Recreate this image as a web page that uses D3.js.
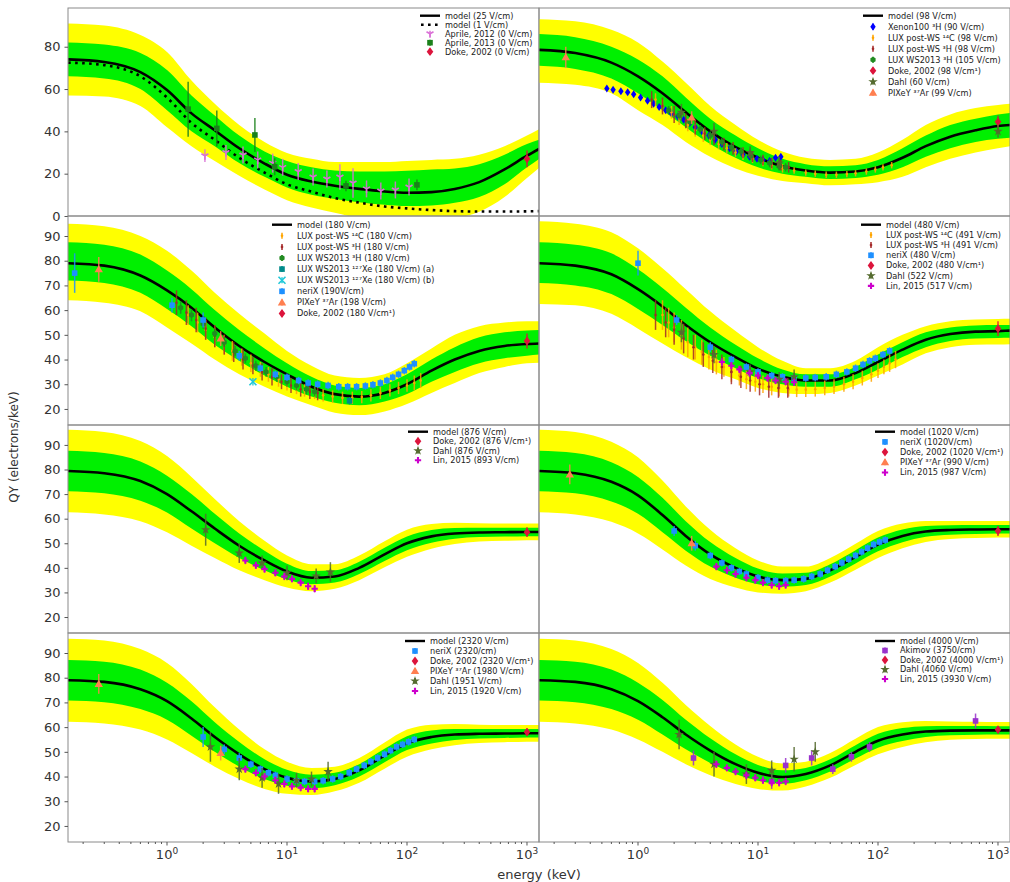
<!DOCTYPE html>
<html>
<head>
<meta charset="utf-8">
<script src="https://cdn.jsdelivr.net/npm/d3@7"></script>
<style>
  body { margin: 0; background: #fff; }
  svg { display: block; font-family: "DejaVu Sans", sans-serif; }
</style>
</head>
<body>
<svg id="chart" width="1010" height="882"></svg>
<script>
// energy grid (keV) where the model curves / bands were read
const energy = [0.15,0.3,0.6,1,1.6,2.5,4,6.5,10,16,25,40,65,100,160,250,400,650,1000,1260];

// ---- 25 V/cm panel (plus 1 V/cm dotted)
const model25 = [74,72.8,68,59.5,48.5,40.5,32,24.8,19.5,16.3,14.3,12.8,11.6,11,11.3,12.8,16,22,28.5,31.7];
const model1 = [72.5,71.3,66,56,44,36,27.5,20.5,15,11.5,8.5,6.3,4.5,3.6,2.8,2.3,2.1,2.1,2.2,2.3];
const green25Hi = [82,81,77,69,57,47.5,38,30.5,26,23,21.5,21,21,21.4,22,22.5,24.5,29,34,36];
const green25Lo = [66,65,60,50,40,33,25,18.5,13.5,10,8,6.5,5.3,4.7,5,6.3,9,15,23,27];
const yellow25Hi = [91,90,85.5,77.5,64,53,43,35,29.8,27,25.5,25.5,25.5,26,26.5,27,29,33,38,41];
const yellow25Lo = [57,56.5,52,42,33,26,19,12.5,7.5,4,1.5,-1,-2,-2,-2,-1,2,9,18,22.7];

// ---- 98 V/cm panel
const model98 = [78.5,77,72.5,66,58,49,40,32.5,27.5,23.5,21.5,20.5,21,23,27.5,33,37.5,40.5,42.5,43];
const green98Hi = [86,84.5,80,74,66,56,46,38,32,27,24.5,23.5,24,26.5,32,38,43,46,48,48.7];
const green98Lo = [71,69.5,65,58,50,42,34,27.5,23,20,18.5,17.5,18,19.5,23,28,32,35,36.5,37];
const yellow98Hi = [93,92,88,82,73,63,52,43,36,30.5,27.5,26.5,27,30,36,43,48,51,52.5,53];
const yellow98Lo = [63,62,58,50,43,35,28,22.5,19,16.5,15.5,14.5,15,16,18.5,23,27,30,32,33];

// ---- 180 V/cm panel
const model180 = [79,78,74,68,61,53,45.5,39,34,29,26,25,26.5,30,35.5,40,43.5,45.5,46.3,46.5];
const green180Hi = [87.5,86.5,82.5,76,68.5,60,52,44.5,38.5,33,29.5,28.5,30,34,40,45,49,51,51.8,52];
const green180Lo = [72,71,67,60.5,53.5,46,39.5,33.5,29,25,22.5,21.5,23,26,31,35,38.5,40.5,41.5,42];
const yellow180Hi = [95,94,90,84,76,67,58.5,50.5,43.5,37.5,33.5,32.5,34,38.5,44.5,50,53.5,55,55.5,55.5];
const yellow180Lo = [64,63,59.5,53,46.5,40,34,29,25,21.5,18.5,17.5,19,22,26.5,30.5,34.5,37,38.5,38.7];

// ---- 480 V/cm panel
const model480 = [79,78,74.5,68.5,61.5,54,47,41,36.3,33,31.5,31.5,34.5,39,44,48,50.3,51.3,51.5,51.7];
const green480Hi = [87.5,86.5,83,76.5,69,61,53,46,40.5,36,34,34,37,42,47,51,53,53.8,54,54];
const green480Lo = [71,70,66.5,60.5,54,47.5,41.5,36.5,32.5,30,29,29,32,36,41,45,47.5,48.5,48.7,48.8];
const yellow480Hi = [96,95,91.5,85,77,68.5,59.5,51.5,45,39.5,36.5,36.5,39.5,45,50,53.5,55.5,56.2,56.4,56.5];
const yellow480Lo = [62.5,62,58.5,52.5,46.5,41,36,32,28.5,26.5,26,26.5,29.5,33.5,38,42.5,45,46,46.1,46.2];

// ---- 876 V/cm panel
const model876 = [79.4,78.5,75.3,70,63,56,49,43,38.5,36,36.5,40,45.5,50,52.8,54,54.4,54.5,54.6,54.6];
const green876Hi = [87.6,86.7,83.3,77.5,70,62,54,47,41.7,38.7,39,42.5,48.2,52.8,55.4,56.2,56.3,56.3,56.3,56.3];
const green876Lo = [71.2,70.3,67.3,62.5,56,50,44,39,35.3,33.3,34,37.5,42.8,47.2,50.2,51.8,52.5,52.7,52.9,52.9];
const yellow876Hi = [96.2,95.3,91.6,85.5,77,68,59,51,45,41.5,41.5,45,50.8,55.5,57.8,58.3,58.1,58,58,58];
const yellow876Lo = [62.6,61.7,59,54.5,49,44,39,35,32,30.5,31.5,35,40.2,44.5,47.8,49.7,50.7,51,51.2,51.2];

// ---- 1020 V/cm panel
const model1020 = [79.4,78.5,75,69.5,61.5,53,45.5,40,36.5,35,35.5,39,44.5,49.5,53,54.8,55.4,55.6,55.7,55.7];
const green1020Hi = [87.6,86.7,83,77,68.5,59,50.5,44,39.7,37.7,38,41.5,47.2,52.3,55.6,57,57.3,57.4,57.4,57.4];
const green1020Lo = [71.2,70.3,67,62,54.5,47,40.5,36,33.3,32.3,33,36.5,41.8,46.7,50.4,52.6,53.5,53.8,54,54];
const yellow1020Hi = [96.2,95.3,91.3,85,75.5,65,55.5,48,43,40.5,40.5,44,49.8,55,58,59.1,59.1,59.1,59.1,59.1];
const yellow1020Lo = [62.6,61.7,58.7,54,47.5,41,35.5,32,30,29.5,30.5,34,39.2,44,48,50.5,51.7,52.1,52.3,52.3];

// ---- 2320 V/cm panel
const model2320 = [79,78.3,75.3,70.5,63.5,56,49,43,39.5,38,39,42.5,48.5,53.5,56,57,57.3,57.4,57.5,57.5];
const green2320Hi = [87.2,86.5,83.3,78,70.5,62,54,47,42.7,40.7,41.5,45,51.2,56.3,58.6,59.2,59.2,59.2,59.2,59.2];
const green2320Lo = [70.8,70.1,67.3,63,56.5,50,44,39,36.3,35.3,36.5,40,45.8,50.7,53.4,54.8,55.4,55.6,55.8,55.8];
const yellow2320Hi = [95.8,95.1,91.6,86,77.5,68,59,51,46,43.5,44,47.5,53.8,59,61,61.3,61,60.9,60.9,60.9];
const yellow2320Lo = [62.2,61.5,59,55,49.5,44,39,35,33,32.5,34,37.5,43.2,48,51,52.7,53.6,53.9,54.1,54.1];

// ---- 4000 V/cm panel
const model4000 = [79,78.3,75.3,70.5,64,57,50.5,45,41.5,39.8,41,44.5,50,54.5,57,58.2,58.6,58.7,58.7,58.7];
const green4000Hi = [87.2,86.5,83.3,78,71,63,55.5,49,44.7,42.5,43.5,47,52.7,57.3,59.6,60.4,60.5,60.5,60.4,60.4];
const green4000Lo = [70.8,70.1,67.3,63,57,51,45.5,41,38.3,37.1,38.5,42,47.3,51.7,54.4,56,56.7,56.9,57,57];
const yellow4000Hi = [95.8,95.1,91.6,86,78,69,60.5,53,48,45.3,46,49.5,55.3,60,62,62.5,62.3,62.2,62.1,62.1];
const yellow4000Lo = [62.2,61.5,59,55,50,45,40.5,37,35,34.3,36,39.5,44.7,49,52,53.9,54.9,55.2,55.3,55.3];

// ---- measurements: [energy keV, QY, error]
const aprile2012 = [[2.07,28.5,3],[3.1,30,3.5],[4.3,28.8,4],[5.7,26.5,4],[7.6,25,4.5],[9.2,23,4],[12.4,21,4],[16.5,18.4,4],[21.5,17.5,4],[27.6,18.4,6],[35.5,15.6,7],[46,12.8,4],[60.5,11.8,4],[80,12.3,4],[104,13.7,4]];
const aprile2013 = [[1.5,50.5,13],[2.6,41.4,8.5],[5.4,38.3,8],[7.9,23.3,4],[31,14.2,2.5],[121,14.7,2.5]];
const doke0 = [[1000,27,4]];

const xenon100 = [[0.55,60.3,0.6],[0.62,59.7,0.6],[0.72,59,0.6],[0.82,58.5,0.6],[0.92,57.5,0.6],[1.05,56,0.6],[1.2,54.5,0.6],[1.35,53,0.6],[1.5,51.5,0.6],[1.7,50,0.6],[1.9,48.5,0.6],[2.15,47,0.6],[2.4,45.5,0.6],[2.7,44,0.6],[3,42,0.6],[3.4,40,0.6],[3.9,38,0.6],[4.4,36,0.6],[5,34,0.6],[5.8,32,0.6],[6.6,30.5,0.6],[7.5,29,0.6],[8.5,28,0.6],[9.8,27,0.6],[11,26.5,0.6],[12.5,26,0.8],[14,27.5,1],[15.5,28,1]];
const lux14C98 = [[1.4,55,3],[1.6,52,3],[1.9,49,3],[2.2,46,3],[2.6,43,3],[3,40.5,3],[3.5,38,3],[4,36,2.5],[4.7,34,2.5],[5.5,32,2.5],[6.5,30,2],[7.5,28.5,2],[9,27,2],[11,25.5,2],[13,24,2],[16,22.5,2],[20,21.5,1.5],[25,20.5,1.5],[30,20,1.5],[37,19.5,1.5],[45,19.5,1.5],[55,19.8,1.5],[65,20.2,1.5],[80,21,1.5],[95,22,1.5],[110,23,1.5],[130,24,1.5]];
const lux3H98 = [[1.3,55,4],[1.6,52,4],[2,48,4],[2.5,45,3.5],[3,42,3.5],[3.6,39,3],[4.3,36.5,3],[5.2,34,3],[6.2,32,3],[7.5,30,2.5],[9,28,2.5],[11,26.5,2.5],[13,25,2.5],[15.5,24,2.5],[18,23,2.5]];
const luxWS3H105 = [[1.8,50,2],[2.2,47.5,2],[2.7,44.5,2],[3.3,41,2],[4,38,2],[5,35,2],[6,32.5,2],[7.2,30.5,2],[8.7,28.5,2],[10.5,26.5,2],[12.5,25,2],[15,23.5,2],[17,23,2]];
const doke98 = [[1000,44.5,3]];
const dahl60 = [[2.3,49,4],[4.3,40,4],[8.6,30,3],[15,25,3],[1000,40,3]];
const pixey99 = [[0.25,75,5],[2.8,46.5,3]];

const lux14C180 = [[1.5,58,4],[1.8,55,4],[2.1,52,4],[2.5,49,4],[3,46,4],[3.5,43.5,4],[4.2,41,3.5],[5,38.5,3.5],[6,36,3],[7,34,3],[8.5,32,3],[10,30.5,3],[12,29,3],[14,27.5,2.5],[17,26.5,2.5],[20,25.5,2.5],[24,25,2.5],[29,24.5,2.5],[35,24.5,2.5],[42,24.8,2.5],[50,25.5,2.5],[60,26.5,2.5],[72,27.5,2.5],[85,28.5,2.5],[100,29.5,2.5],[115,30.5,3],[130,31.5,3]];
const lux3H180 = [[1.2,63,5],[1.45,59,5],[1.75,56,5],[2.1,52.5,4.5],[2.5,49.5,4.5],[3,46,4],[3.6,43,4],[4.3,40,4],[5.2,37.5,3.5],[6.2,35,3.5],[7.5,33,3.5],[9,31,3],[10.8,29.5,3],[13,28,3],[15.5,27,3],[18,26.5,3]];
const luxWS3H180 = [[1.3,61,2.5],[1.6,58,2.5],[2,54.5,2],[2.5,50.5,2],[3,47,2],[3.7,43.5,2],[4.5,40.5,2],[5.5,37.5,2],[6.7,35,2],[8.2,33,2],[10,31,2],[12,29.5,2],[14.5,28,2],[17,27,2]];
const lux127XeA = [[33.2,23.3,1.5]];
const lux127XeB = [[5.2,31,1.5]];
const nerix190 = [[0.17,75,8],[1.1,62,3],[2,56,3],[4,41.5,2],[6,36.5,1.5],[8,34,1.5],[10,32.8,1.5],[12.5,31.5,1.5],[15,30.5,1.5],[18,30,1.5],[22,29.5,1.5],[27,29,1.5],[32,29,1.5],[38,29,1.5],[45,29.3,1.5],[52,29.8,1.5],[60,30.5,1.5],[68,31.5,1.5],[76,32.8,1.5],[85,34,1.5],[95,35.5,1.5],[105,37,1.5],[115,38.3,1.5]];
const pixey198 = [[0.27,76.5,5],[2.8,48.5,3]];
const doke180 = [[1000,47.5,3]];

const lux14C491 = [[1.6,58,6],[1.8,55,6],[2,53,6],[2.3,50,6],[2.6,47,6],[3,45,5],[3.4,43,5],[3.9,41,5],[4.5,39,5],[5.2,37,4],[6,35,4],[7,33.5,4],[8,32,4],[9.5,31,4],[11,30,3.5],[13,29,3.5],[15,28.5,3.5],[18,28,3],[21,27.8,3],[25,27.8,3],[30,28,3],[36,28.5,3],[43,29,3],[52,30,3],[62,31,3],[74,32.5,3],[88,34,3],[100,35.5,3],[112,37,3],[125,38.5,3.5],[140,40,3.5]];
const lux3H491 = [[1.4,58,6],[1.7,55,6],[2,52,6],[2.4,48.5,6],[2.9,45,5],[3.5,42,5],[4.2,39.5,5],[5,37,5],[6,35,5],[7.2,33,4.5],[8.6,31.5,4.5],[10.3,30,4.5],[12.3,29,4.5],[14.8,28.5,4],[17.7,28.5,4]];
const nerix480 = [[1,79,5],[2.1,56,2],[4,45,2],[6,40,1.5],[8,37,1.5],[10,35,1.5],[13,33.5,1.5],[16,33,1.5],[20,32.5,1.5],[25,32.5,1.5],[30,32.7,1.5],[37,33,1.5],[45,34,1.5],[55,35,1.5],[65,36.5,1.5],[75,38,1.5],[85,39.5,1.5],[95,40.5,1.5],[110,42,1.5],[125,43.5,1.5]];
const doke480 = [[1000,52.5,3]];
const dahl522 = [[2.3,51,4],[4.3,42,3.5],[8.6,35,3],[15,32,3],[20,33,3]];
const lin517 = [[5,39,1.5],[6,37.5,1.5],[7,36,1.5],[8.5,34.5,1.5],[10,33.5,1.5],[12,32.5,1.5],[14,31.5,1.5],[17,31,1.5],[20,30.8,1.5]];

const doke876 = [[1000,54.5,2]];
const dahl876 = [[2.1,55.5,6.5],[4,46,4],[6.2,42,3],[10,38,3],[17.5,36.7,3],[23,38.3,4]];
const lin893 = [[4.5,43,1.5],[5.5,41,1.5],[6.5,39.5,1.5],[8,38,1.5],[9.5,36.5,1.5],[11,35.5,1.5],[13,34,1.5],[15,32.5,1.5],[17,31.5,1.5]];

const nerix1020 = [[2,55,2],[3,49,2],[4,45,1.5],[5,42,1.5],[6,40,1.5],[7,38.5,1.5],[8,37.5,1.5],[10,36,1.5],[12,35,1.5],[14,34.8,1.5],[17,34.8,1.5],[20,35,1.5],[24,35.5,1.5],[28,36.5,1.5],[33,37.5,1.5],[38,39,1.5],[44,40.5,1.5],[50,42,1.5],[57,43.5,1.5],[65,45,1.5],[73,46.5,1.5],[82,48,1.5],[92,49.5,1.5],[103,50.5,1.5],[115,51.3,1.5]];
const doke1020 = [[1000,55,2]];
const pixey990 = [[0.27,78,4],[2.8,50,3]];
const lin987 = [[4.5,40.5,1.5],[5.5,39,1.5],[6.5,37.5,1.5],[8,36,1.5],[9.5,35,1.5],[11,34,1.5],[13,33,1.5],[15,32.5,1.5],[17,33,1.5]];

const nerix2320 = [[2,56,4],[3,51,2],[4,47.5,2],[5,45,1.5],[6,43,1.5],[7,41.5,1.5],[8,40.5,1.5],[10,39,1.5],[12,38.3,1.5],[14,38,1.5],[17,38,1.5],[20,38.3,1.5],[24,39,1.5],[28,40,1.5],[33,41.5,1.5],[38,43,1.5],[44,44.5,1.5],[50,46,1.5],[57,47.5,1.5],[65,49,1.5],[73,50.5,1.5],[82,52,1.5],[92,53,1.5],[103,54,1.5],[115,55,1.5]];
const doke2320 = [[1000,58,1.5]];
const pixey1980 = [[0.27,77.5,4],[2.8,49.5,3]];
const dahl1951 = [[2.3,52,6],[4,43,4.5],[6.2,39.5,4],[8.5,37,4],[12,38.5,3],[16,39,3],[22,42,4]];
const lin1920 = [[4.5,43,1.5],[5.5,41.5,1.5],[6.5,40,1.5],[8,38.5,1.5],[9.5,37,1.5],[11,36,1.5],[13,35.5,1.5],[15,35,1.5],[17,35,1.5]];

const akimov3750 = [[2.9,47.5,3],[13,38,3],[17,44.5,3],[28,47.5,3],[42,43,2],[60,48,2],[85,52,2],[650,62.5,3]];
const doke4000 = [[1000,59,1.5]];
const dahl4060 = [[2.2,57,6],[4.3,45,5],[8,41,4],[13,42.5,4],[20,47,5],[30,50,4]];
const lin3930 = [[4.5,45,1.5],[5.5,43.5,1.5],[6.5,42,1.5],[8,40.5,1.5],[9.5,39.5,1.5],[11,38.5,1.5],[13,37.5,1.5],[15,37.5,1.5],[17,38,1.5]];

// tick labels
const yTicksTop = [0,20,40,60,80];
const yTicksRest = [20,30,40,50,60,70,80,90];
const xTicks = [1,10,100,1000];

// styles for each data source
const S = {
  aprile12: {color: "#da70d6", m: "1"},
  aprile13: {color: "#1a801a", m: "s"},
  doke: {color: "#dc143c", m: "D"},
  xenon: {color: "#0000ff", m: "d"},
  lux14C: {color: "#ffa500", m: "."},
  lux3H: {color: "#a52a2a", m: "."},
  luxWS: {color: "#228b22", m: "h"},
  xeA: {color: "#008b8b", m: "s"},
  xeB: {color: "#20c8d8", m: "x"},
  nerix: {color: "#1e90ff", m: "s"},
  pixey: {color: "#ff7f50", m: "^"},
  dahl: {color: "#556b2f", m: "*"},
  lin: {color: "#cc00cc", m: "P"},
  akimov: {color: "#9932cc", m: "s"}
};

const panels = [
  {col:0,row:0, model:model25, dotted:model1, g:[green25Lo,green25Hi], y:[yellow25Lo,yellow25Hi],
   leg:{x:420,y:15.7,dy:9}, entries:[
    {label:"model (25 V/cm)", line:"solid"},
    {label:"model (1 V/cm)", line:"dotted"},
    {label:"Aprile, 2012 (0 V/cm)", s:S.aprile12, data:aprile2012},
    {label:"Aprile, 2013 (0 V/cm)", s:S.aprile13, data:aprile2013},
    {label:"Doke, 2002 (0 V/cm)", s:S.doke, data:doke0}]},
  {col:1,row:0, model:model98, g:[green98Lo,green98Hi], y:[yellow98Lo,yellow98Hi],
   leg:{x:863,y:15.7,dy:11}, entries:[
    {label:"model (98 V/cm)", line:"solid"},
    {label:"Xenon100 \u00b3H (90 V/cm)", s:S.xenon, data:xenon100},
    {label:"LUX post-WS \u00b9\u2074C (98 V/cm)", s:S.lux14C, data:lux14C98},
    {label:"LUX post-WS \u00b3H (98 V/cm)", s:S.lux3H, data:lux3H98},
    {label:"LUX WS2013 \u00b3H (105 V/cm)", s:S.luxWS, data:luxWS3H105},
    {label:"Doke, 2002 (98 V/cm\u00b9)", s:S.doke, data:doke98},
    {label:"Dahl (60 V/cm)", s:S.dahl, data:dahl60},
    {label:"PIXeY \u00b3\u2077Ar (99 V/cm)", s:S.pixey, data:pixey99}]},
  {col:0,row:1, model:model180, g:[green180Lo,green180Hi], y:[yellow180Lo,yellow180Hi],
   leg:{x:272,y:224.7,dy:11.1}, entries:[
    {label:"model (180 V/cm)", line:"solid"},
    {label:"LUX post-WS \u00b9\u2074C (180 V/cm)", s:S.lux14C, data:lux14C180},
    {label:"LUX post-WS \u00b3H (180 V/cm)", s:S.lux3H, data:lux3H180},
    {label:"LUX WS2013 \u00b3H (180 V/cm)", s:S.luxWS, data:luxWS3H180},
    {label:"LUX WS2013 \u00b9\u00b2\u2077Xe (180 V/cm) (a)", s:S.xeA, data:lux127XeA},
    {label:"LUX WS2013 \u00b9\u00b2\u2077Xe (180 V/cm) (b)", s:S.xeB, data:lux127XeB},
    {label:"neriX (190V/cm)", s:S.nerix, data:nerix190},
    {label:"PIXeY \u00b3\u2077Ar (198 V/cm)", s:S.pixey, data:pixey198},
    {label:"Doke, 2002 (180 V/cm\u00b9)", s:S.doke, data:doke180}]},
  {col:1,row:1, model:model480, g:[green480Lo,green480Hi], y:[yellow480Lo,yellow480Hi],
   leg:{x:861,y:224.7,dy:10.2}, entries:[
    {label:"model (480 V/cm)", line:"solid"},
    {label:"LUX post-WS \u00b9\u2074C (491 V/cm)", s:S.lux14C, data:lux14C491},
    {label:"LUX post-WS \u00b3H (491 V/cm)", s:S.lux3H, data:lux3H491},
    {label:"neriX (480 V/cm)", s:S.nerix, data:nerix480},
    {label:"Doke, 2002 (480 V/cm\u00b9)", s:S.doke, data:doke480},
    {label:"Dahl (522 V/cm)", s:S.dahl, data:dahl522},
    {label:"Lin, 2015 (517 V/cm)", s:S.lin, data:lin517}]},
  {col:0,row:2, model:model876, g:[green876Lo,green876Hi], y:[yellow876Lo,yellow876Hi],
   leg:{x:408,y:431.7,dy:9.5}, entries:[
    {label:"model (876 V/cm)", line:"solid"},
    {label:"Doke, 2002 (876 V/cm\u00b9)", s:S.doke, data:doke876},
    {label:"Dahl (876 V/cm)", s:S.dahl, data:dahl876},
    {label:"Lin, 2015 (893 V/cm)", s:S.lin, data:lin893}]},
  {col:1,row:2, model:model1020, g:[green1020Lo,green1020Hi], y:[yellow1020Lo,yellow1020Hi],
   leg:{x:875,y:431.7,dy:10.2}, entries:[
    {label:"model (1020 V/cm)", line:"solid"},
    {label:"neriX (1020V/cm)", s:S.nerix, data:nerix1020},
    {label:"Doke, 2002 (1020 V/cm\u00b9)", s:S.doke, data:doke1020},
    {label:"PIXeY \u00b3\u2077Ar (990 V/cm)", s:S.pixey, data:pixey990},
    {label:"Lin, 2015 (987 V/cm)", s:S.lin, data:lin987}]},
  {col:0,row:3, model:model2320, g:[green2320Lo,green2320Hi], y:[yellow2320Lo,yellow2320Hi],
   leg:{x:405,y:641,dy:10}, entries:[
    {label:"model (2320 V/cm)", line:"solid"},
    {label:"neriX (2320/cm)", s:S.nerix, data:nerix2320},
    {label:"Doke, 2002 (2320 V/cm\u00b9)", s:S.doke, data:doke2320},
    {label:"PIXeY \u00b3\u2077Ar (1980 V/cm)", s:S.pixey, data:pixey1980},
    {label:"Dahl (1951 V/cm)", s:S.dahl, data:dahl1951},
    {label:"Lin, 2015 (1920 V/cm)", s:S.lin, data:lin1920}]},
  {col:1,row:3, model:model4000, g:[green4000Lo,green4000Hi], y:[yellow4000Lo,yellow4000Hi],
   leg:{x:875,y:641,dy:9.5}, entries:[
    {label:"model (4000 V/cm)", line:"solid"},
    {label:"Akimov (3750/cm)", s:S.akimov, data:akimov3750},
    {label:"Doke, 2002 (4000 V/cm\u00b9)", s:S.doke, data:doke4000},
    {label:"Dahl (4060 V/cm)", s:S.dahl, data:dahl4060},
    {label:"Lin, 2015 (3930 V/cm)", s:S.lin, data:lin3930}]}
];

const svg = d3.select("#chart");
const colX = [68, 539];
const rowY = [8, 216, 425, 633, 842];
const panelW = 471;

const x = d3.scaleLog().domain([0.1496, 1259]).range([0, panelW]);

// marker shapes as path strings
function markerPath(m) {
  if (m === "D") return "M0,-4.4L3.3,0L0,4.4L-3.3,0Z";
  if (m === "d") return "M0,-4L2.7,0L0,4L-2.7,0Z";
  if (m === "s") return "M-2.8,-2.8h5.6v5.6h-5.6Z";
  if (m === "h") return d3.range(6).map((i, k) => {
      const a = Math.PI / 3 * i + Math.PI / 6;
      return (k ? "L" : "M") + (3 * Math.cos(a)).toFixed(2) + "," + (3 * Math.sin(a)).toFixed(2);
    }).join("") + "Z";
  if (m === "*") return d3.symbol(d3.symbolStar, 28)();
  if (m === "^") return "M0,-4.2L4.2,3L-4.2,3Z";
  if (m === "P") return d3.symbol(d3.symbolCross, 22)();
  if (m === ".") return "M-1.3,0a1.3,1.3 0 1,0 2.6,0a1.3,1.3 0 1,0 -2.6,0";
  if (m === "x") return "M-3.5,-3.5L3.5,3.5M-3.5,3.5L3.5,-3.5";
  if (m === "1") return "M0,0L0,4M0,0L-3.5,-2M0,0L3.5,-2";
  return "";
}
const strokeOnly = m => m === "x" || m === "1";

function drawMarker(g, m, color, cx, cy) {
  const p = g.append("path").attr("d", markerPath(m))
    .attr("transform", `translate(${cx},${cy})`);
  if (strokeOnly(m)) p.attr("fill", "none").attr("stroke", color).attr("stroke-width", 1.6);
  else p.attr("fill", color);
}

panels.forEach((p, i) => {
  const top = rowY[p.row], bottom = rowY[p.row + 1];
  const h = bottom - top;
  const y = d3.scaleLinear()
    .domain(p.row === 0 ? [0, 98.3] : [13.5, 98.1])
    .range([h, 0]);

  const g = svg.append("g").attr("transform", `translate(${colX[p.col]},${top})`);
  g.append("clipPath").attr("id", "clip" + i)
    .append("rect").attr("width", panelW).attr("height", h);
  const plot = g.append("g").attr("clip-path", `url(#clip${i})`);

  const rows = energy.map((e, k) => ({e, m: p.model[k], gl: p.g[0][k], gh: p.g[1][k], yl: p.y[0][k], yh: p.y[1][k]}));
  const band = (lo, hi) => d3.area().curve(d3.curveMonotoneX)
    .x(d => x(d.e)).y0(d => y(d[lo])).y1(d => y(d[hi]));

  plot.append("path").datum(rows).attr("d", band("yl", "yh")).attr("fill", "#ffff00");
  plot.append("path").datum(rows).attr("d", band("gl", "gh")).attr("fill", "#00f000");

  const line = d3.line().curve(d3.curveMonotoneX).x(d => x(d[0])).y(d => y(d[1]));
  plot.append("path").datum(energy.map((e, k) => [e, p.model[k]]))
    .attr("d", line).attr("fill", "none").attr("stroke", "#000").attr("stroke-width", 2.6);
  if (p.dotted) {
    plot.append("path").datum(energy.map((e, k) => [e, p.dotted[k]]))
      .attr("d", line).attr("fill", "none").attr("stroke", "#000")
      .attr("stroke-width", 2.6).attr("stroke-dasharray", "2.6,4.4");
  }

  // data points with error bars
  p.entries.filter(en => en.data).forEach(en => {
    const ds = plot.append("g");
    ds.selectAll("line").data(en.data).join("line")
      .attr("x1", d => x(d[0])).attr("x2", d => x(d[0]))
      .attr("y1", d => y(d[1] - d[2])).attr("y2", d => y(d[1] + d[2]))
      .attr("stroke", en.s.color).attr("stroke-width", 1.5).attr("opacity", 0.85);
    en.data.forEach(d => drawMarker(ds, en.s.m, en.s.color, x(d[0]), y(d[1])));
  });

  // frame
  g.append("rect").attr("width", panelW).attr("height", h)
    .attr("fill", "none").attr("stroke", "#8a8a8a").attr("stroke-width", 1);

  // y axis on left column
  if (p.col === 0) {
    const ticks = p.row === 0 ? yTicksTop : yTicksRest;
    const ax = g.append("g").call(d3.axisLeft(y).tickValues(ticks).tickSize(3.5).tickPadding(4));
    ax.select(".domain").remove();
    ax.selectAll("line").attr("stroke", "#555");
    ax.selectAll("text").attr("font-size", 13).attr("fill", "#333").attr("font-family", "DejaVu Sans");
  }

  // x axis on bottom row
  if (p.row === 3) {
    const minor = [];
    for (let dec = 0.1; dec <= 1000; dec *= 10)
      for (let k = 2; k <= 9; k++) {
        const v = dec * k;
        if (v >= x.domain()[0] && v <= x.domain()[1]) minor.push(v);
      }
    g.append("g").selectAll("line").data(minor).join("line")
      .attr("x1", d => x(d)).attr("x2", d => x(d))
      .attr("y1", h).attr("y2", h + 2).attr("stroke", "#555");
    const xt = g.append("g").selectAll("g").data(xTicks).join("g")
      .attr("transform", d => `translate(${x(d)},${h})`);
    xt.append("line").attr("y2", 3.5).attr("stroke", "#555");
    const t = xt.append("text").attr("y", 17).attr("text-anchor", "middle")
      .attr("font-size", 13).attr("fill", "#333");
    t.append("tspan").text("10");
    t.append("tspan").attr("dy", -5).attr("font-size", 9).text(d => Math.round(Math.log10(d)));
  }

  // legend
  const lg = svg.append("g").attr("font-size", 8.2).attr("fill", "#222");
  p.entries.forEach((en, k) => {
    const ly = p.leg.y + k * p.leg.dy;
    const cx = p.leg.x + 10;
    if (en.line === "solid") {
      lg.append("line").attr("x1", p.leg.x).attr("x2", p.leg.x + 20).attr("y1", ly).attr("y2", ly)
        .attr("stroke", "#000").attr("stroke-width", 2.4);
    } else if (en.line === "dotted") {
      lg.append("line").attr("x1", p.leg.x).attr("x2", p.leg.x + 20).attr("y1", ly).attr("y2", ly)
        .attr("stroke", "#000").attr("stroke-width", 2.4).attr("stroke-dasharray", "2.6,4.4").attr("stroke-dashoffset", -1);
    } else {
      lg.append("line").attr("x1", cx).attr("x2", cx).attr("y1", ly - 3).attr("y2", ly + 3)
        .attr("stroke", en.s.color).attr("stroke-width", 1.5);
      drawMarker(lg, en.s.m, en.s.color, cx, ly);
    }
    lg.append("text").attr("x", p.leg.x + 25).attr("y", ly).attr("dy", "0.35em").text(en.label);
  });
});

// axis titles
svg.append("text").attr("transform", "translate(18,447) rotate(-90)")
  .attr("text-anchor", "middle").attr("font-size", 12).attr("fill", "#333")
  .text("QY (electrons/keV)");
svg.append("text").attr("x", 539).attr("y", 879).attr("text-anchor", "middle")
  .attr("font-size", 13).attr("fill", "#333").text("energy (keV)");
</script>
</body>
</html>
